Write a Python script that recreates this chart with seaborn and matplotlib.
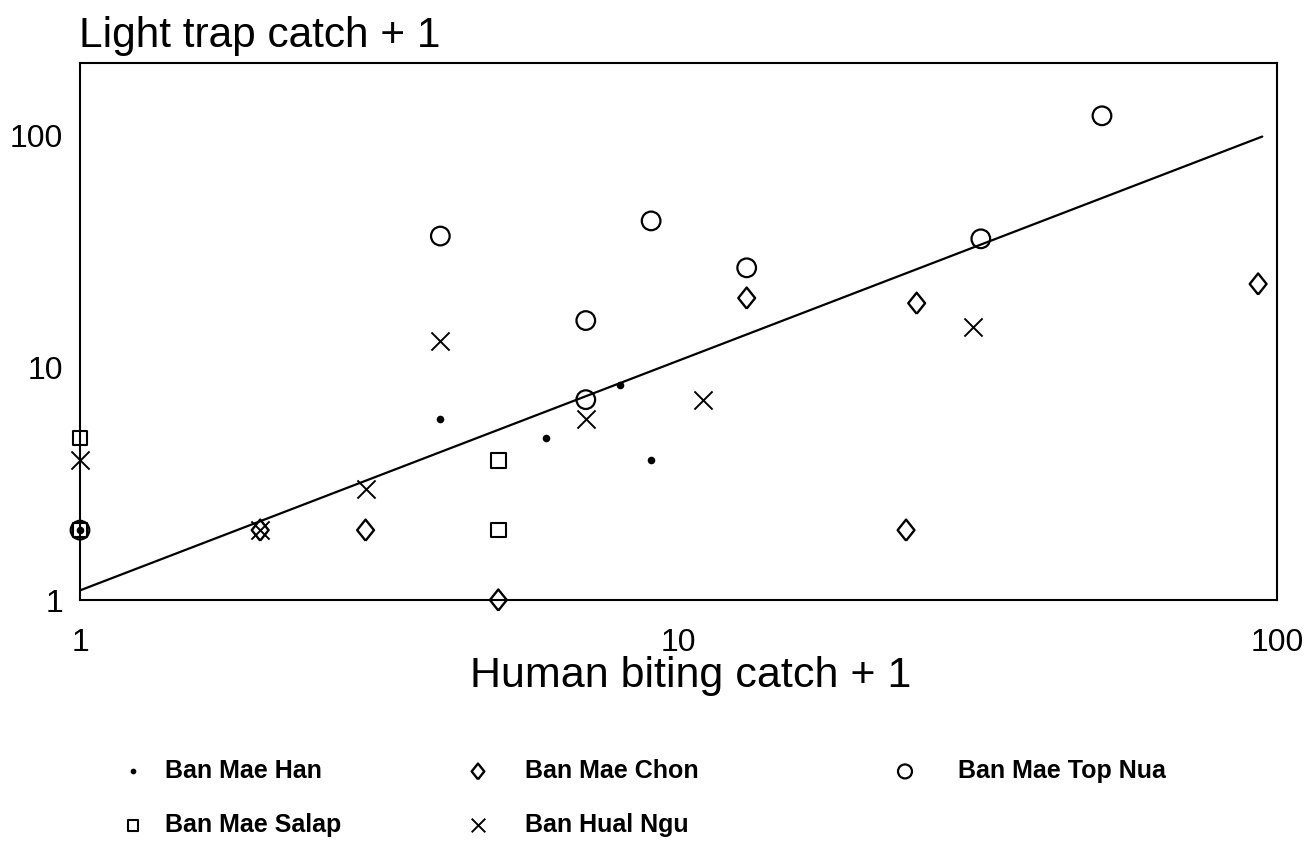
import numpy as np
import pandas as pd
import matplotlib
matplotlib.use("Agg")
import matplotlib.pyplot as plt
import seaborn as sns

# ---- data ----
han_x = [1, 4, 6, 8, 9]
han_y = [2, 6, 5, 8.4, 4]

chon_x = [2, 3, 5, 13, 24, 25, 93]
chon_y = [2, 2, 1, 20, 2, 19, 23]

topnua_x = [1, 4, 7, 7, 9, 13, 32, 51]
topnua_y = [2, 37, 16, 7.3, 43, 27, 36, 122]

salap_x = [1, 1, 5, 5]
salap_y = [5, 2, 4, 2]

hual_x = [1, 2, 3, 4, 7, 11, 31]
hual_y = [4, 2, 3, 13, 6, 7.3, 15]

# fitted line: y = a * x^b  over x range
fit_a = 1.1
fit_b = 0.99
fit_xrange = [1, 94.5]

sites = ["Ban Mae Han", "Ban Mae Chon", "Ban Mae Top Nua", "Ban Mae Salap", "Ban Hual Ngu"]
xs = [han_x, chon_x, topnua_x, salap_x, hual_x]
ys = [han_y, chon_y, topnua_y, salap_y, hual_y]

df = pd.concat([pd.DataFrame({"x": x, "y": y, "site": s}) for s, x, y in zip(sites, xs, ys)],
               ignore_index=True)

sns.set_theme(style="white")
plt.rcParams["font.family"] = ["Liberation Sans", "DejaVu Sans"]
plt.rcParams["text.color"] = "black"

W, H = 1313, 851
fig = plt.figure(figsize=(W / 100, H / 100), dpi=100)
ax = fig.add_axes([80 / W, 1 - 600 / H, (1277 - 80) / W, (600 - 63) / H])

diamond = [(0, -1), (0.8, 0), (0, 1), (-0.8, 0), (0, -1)]
styles = {
    "Ban Mae Han": dict(marker="o", s=30, facecolor="black", edgecolor="black", linewidth=0),
    "Ban Mae Chon": dict(marker=diamond, s=230, facecolor="none", edgecolor="black", linewidth=1.7),
    "Ban Mae Top Nua": dict(marker="o", s=180, facecolor="none", edgecolor="black", linewidth=1.6),
    "Ban Mae Salap": dict(marker="s", s=110, facecolor="none", edgecolor="black", linewidth=1.5),
    "Ban Hual Ngu": dict(marker="x", s=170, color="black", linewidth=1.4),
}

# fitted line
fx = np.array(fit_xrange)
fline = pd.DataFrame({"x": fx, "y": fit_a * fx ** fit_b})
sns.lineplot(data=fline, x="x", y="y", ax=ax, color="black", linewidth=1.6, zorder=1)

for s in sites:
    sub = df[df.site == s]
    sns.scatterplot(data=sub, x="x", y="y", ax=ax, label=s, zorder=3, clip_on=False, **styles[s])

ax.set_xscale("log")
ax.set_yscale("log")
ax.set_xlim(1, 100)
ax.set_ylim(1, 206)
ax.set_xticks([1, 10, 100])
ax.set_xticklabels(["1", "10", "100"])
ax.set_yticks([1, 10, 100])
ax.set_yticklabels(["1", "10", "100"])
ax.minorticks_off()
ax.tick_params(axis="both", length=0, labelsize=23, colors="black")
ax.tick_params(axis="x", pad=20)
ax.tick_params(axis="y", pad=12)
ax.set_xlabel("")
ax.set_ylabel("")
for sp in ax.spines.values():
    sp.set_visible(True)
    sp.set_color("black")
    sp.set_linewidth(1.5)

# legend: three columns placed like the reference
h, l = ax.get_legend_handles_labels()
lab2h = dict(zip(l, h))
if ax.get_legend():
    ax.get_legend().remove()

cols = [
    (["Ban Mae Han", "Ban Mae Salap"], 133, 0.78),
    (["Ban Mae Chon", "Ban Hual Ngu"], 478, 1.38),
    (["Ban Mae Top Nua"], 905, 1.62),
]
for labels, cx, pad in cols:
    leg = fig.legend([lab2h[o] for o in labels], labels, loc="upper left",
                     bbox_to_anchor=((cx - 12.5) / W, 1 - 759 / H), ncol=1, frameon=False,
                     markerscale=0.75, handlelength=1.0, handletextpad=pad,
                     labelspacing=1.2, borderpad=0, borderaxespad=0,
                     prop={"family": "Liberation Sans", "weight": "bold", "size": 18})
    for t in leg.get_texts():
        t.set_color("black")

fig.text(79 / W, 1 - 16 / H, "Light trap catch + 1", ha="left", va="top", fontsize=30.5, color="black")
fig.text(691 / W, 1 - 687 / H, "Human biting catch + 1", ha="center", va="baseline", fontsize=31, color="black")

fig.savefig("out.png", dpi=100, facecolor="white")
